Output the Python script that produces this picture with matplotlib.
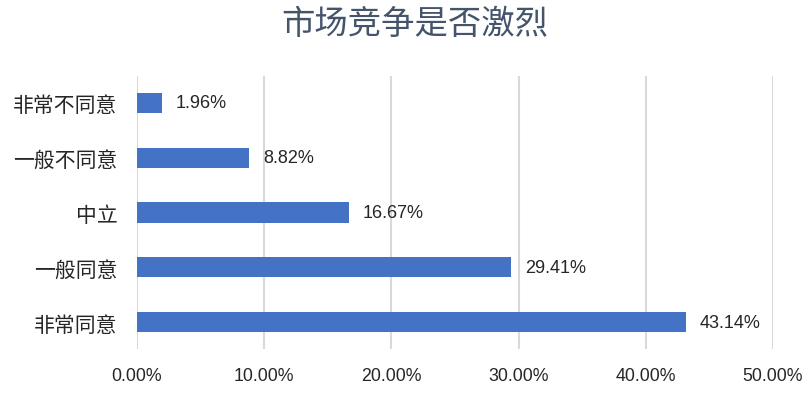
import matplotlib
matplotlib.use("Agg")
import matplotlib.pyplot as plt

categories = ["非常不同意", "一般不同意", "中立", "一般同意", "非常同意"]
values = [1.96, 8.82, 16.67, 29.41, 43.14]
xticks = [0, 10, 20, 30, 40, 50]
xtick_labels = ["0.00%", "10.00%", "20.00%", "30.00%", "40.00%", "50.00%"]
title = "市场竞争是否激烈"

num_font = ["Liberation Sans", "DejaVu Sans"]

fig = plt.figure(figsize=(8.12, 4.02), dpi=100)
ax = fig.add_axes([0.1687, 0.1284, 0.7833, 0.6811])

y = list(range(len(categories)))
ax.barh(y, values, height=0.37, color="#4472C4", zorder=3)
ax.set_ylim(len(categories) - 0.5, -0.5)
ax.set_xlim(0, 50)

for yi, v in zip(y, values):
    ax.text(v + 1.1, yi, f"{v:.2f}%", va="center", ha="left",
            fontsize=13, family=num_font, color="#262626")

ax.set_xticks(xticks)
ax.set_xticklabels(xtick_labels, family=num_font, fontsize=12.8, color="#262626")
ax.set_yticks(y)
ax.set_yticklabels(categories, family=["Noto Sans CJK SC", "DejaVu Sans"], fontsize=15, color="#262626")
ax.tick_params(axis="both", length=0)
ax.tick_params(axis="x", pad=13)
ax.tick_params(axis="y", pad=14)

ax.grid(axis="x", color="#D9D9D9", linewidth=1.5, zorder=0)
for s in ax.spines.values():
    s.set_visible(False)

fig.text(0.511, 0.94, title, ha="center", va="center", fontsize=24, fontweight="medium",
         family=["Noto Sans CJK SC", "DejaVu Sans"], color="#44546A")

fig.savefig("out.png", dpi=100)
